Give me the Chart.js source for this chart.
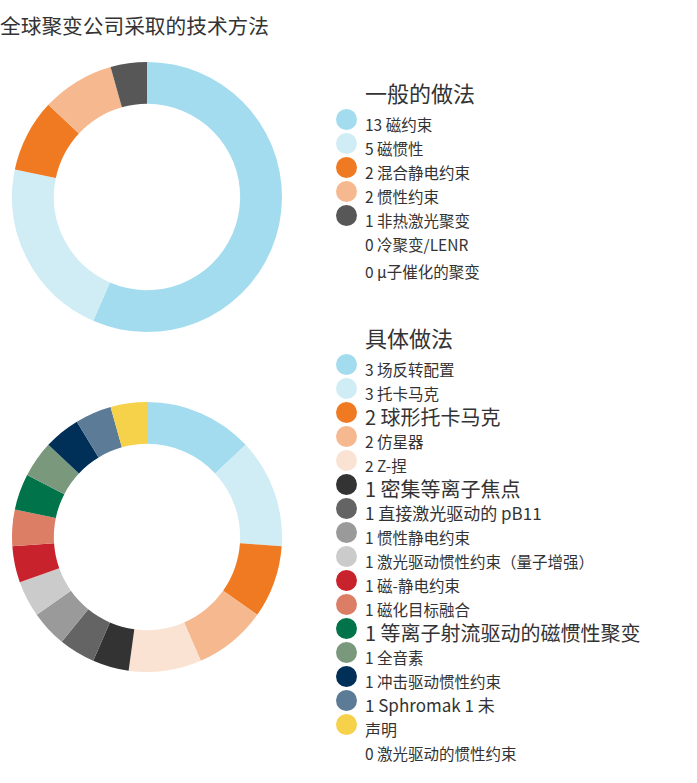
<!DOCTYPE html>
<html>
<head>
<meta charset="utf-8">
<script src="https://cdn.jsdelivr.net/npm/chart.js@4.4.1/dist/chart.umd.min.js"></script>
<style>
  html, body { margin: 0; padding: 0; background: #fff; }
  body { width: 697px; height: 783px; position: relative; overflow: hidden;
         font-family: "Noto Sans CJK SC", "Noto Sans", sans-serif; color: #333; }
  #title { position: absolute; left: 0; top: 9px; font-size: 20.7px; line-height: 32px; white-space: nowrap; }
  canvas { position: absolute; }
  #c1 { left: 12px; top: 62px; }
  #c2 { left: 12px; top: 402px; }
  .legend { position: absolute; left: 336px; }
  .legend h3 { margin: 0 0 0 29px; font-weight: normal; font-size: 22px; line-height: 30px; white-space: nowrap; }
  .row { position: relative; height: 24px; white-space: nowrap; }
  .dot { position: absolute; left: 0; top: 1.5px; width: 21px; height: 21px; border-radius: 50%; }
  .txt { position: absolute; left: 29px; top: 0; line-height: 24px; font-size: 15.5px; transform: translateY(5px); }
</style>
</head>
<body>
<div id="title">全球聚变公司采取的技术方法</div>
<canvas id="c1" width="270" height="270"></canvas>
<canvas id="c2" width="270" height="270"></canvas>
<div class="legend" id="leg1" style="top:77px"></div>
<div class="legend" id="leg2" style="top:322px"></div>
<script>
// ---- general approaches (top ring) ----
const generalLabels = ['磁约束', '磁惯性', '混合静电约束', '惯性约束', '非热激光聚变', '冷聚变/LENR', 'μ子催化的聚变'];
const generalValues = [13, 5, 2, 2, 1, 0, 0];
const generalColors = ['#a3dcef', '#d0ecf5', '#f07a22', '#f6b98f', '#575757', '#ffffff', '#ffffff'];

// ---- specific approaches (bottom ring) ----
const specificLabels = ['场反转配置', '托卡马克', '球形托卡马克', '仿星器', 'Z-捏', '密集等离子焦点',
  '直接激光驱动的 pB11', '惯性静电约束', '激光驱动惯性约束（量子增强）', '磁-静电约束', '磁化目标融合',
  '等离子射流驱动的磁惯性聚变', '全音素', '冲击驱动惯性约束', 'Sphromak', '未声明', '激光驱动的惯性约束'];
const specificValues = [3, 3, 2, 2, 2, 1, 1, 1, 1, 1, 1, 1, 1, 1, 1, 1, 0];
const specificColors = ['#a3dcef', '#d0ecf5', '#f07a22', '#f6b98f', '#fbe3d4', '#333333', '#646464',
  '#9a9a9a', '#cbcbcb', '#c8232c', '#dc7d66', '#00734a', '#7a997c', '#003057', '#5c7b97', '#f6d24b', '#ffffff'];
// legend text as printed (the original wraps "未声明" oddly)
const specificLegendText = ['3 场反转配置', '3 托卡马克', '2 球形托卡马克', '2 仿星器', '2 Z-捏', '1 密集等离子焦点',
  '1 直接激光驱动的 pB11', '1 惯性静电约束', '1 激光驱动惯性约束（量子增强）', '1 磁-静电约束', '1 磁化目标融合',
  '1 等离子射流驱动的磁惯性聚变', '1 全音素', '1 冲击驱动惯性约束', '1 Sphromak 1 未', '声明', '0 激光驱动的惯性约束'];
const specificFontSize = [15.5, 15.5, 20, 15.5, 15.5, 20, 17, 15.5, 15.5, 15.5, 15.5, 20, 15.5, 15.5, 17, 16, 15.5];

function ring(id, labels, values, colors) {
  return new Chart(document.getElementById(id), {
    type: 'doughnut',
    data: {
      labels: labels,
      datasets: [{ data: values, backgroundColor: colors, borderWidth: 0 }]
    },
    options: {
      responsive: false,
      animation: false,
      cutout: '69%',
      layout: { padding: 0 },
      plugins: { legend: { display: false }, tooltip: { enabled: false } }
    }
  });
}

function legend(el, title, texts, values, colors, sizes) {
  let html = '<h3>' + title + '</h3>';
  texts.forEach((t, i) => {
    const dot = values[i] > 0 ? '<span class="dot" style="background:' + colors[i] + '"></span>' : '';
    const fs = sizes ? sizes[i] : 15.5;
    const extra = values[i] === 0 && i > 0 && values[i - 1] === 0 ? 'margin-top:3px;' : '';
    html += '<div class="row" style="' + extra + '">' + dot +
      '<span class="txt" style="font-size:' + fs + 'px">' + t + '</span></div>';
  });
  document.getElementById(el).innerHTML = html;
}

ring('c1', generalLabels, generalValues, generalColors);
ring('c2', specificLabels, specificValues, specificColors);

legend('leg1', '一般的做法', generalLabels.map((l, i) => generalValues[i] + ' ' + l), generalValues, generalColors, null);
legend('leg2', '具体做法', specificLegendText, specificValues, specificColors, specificFontSize);
</script>
</body>
</html>
